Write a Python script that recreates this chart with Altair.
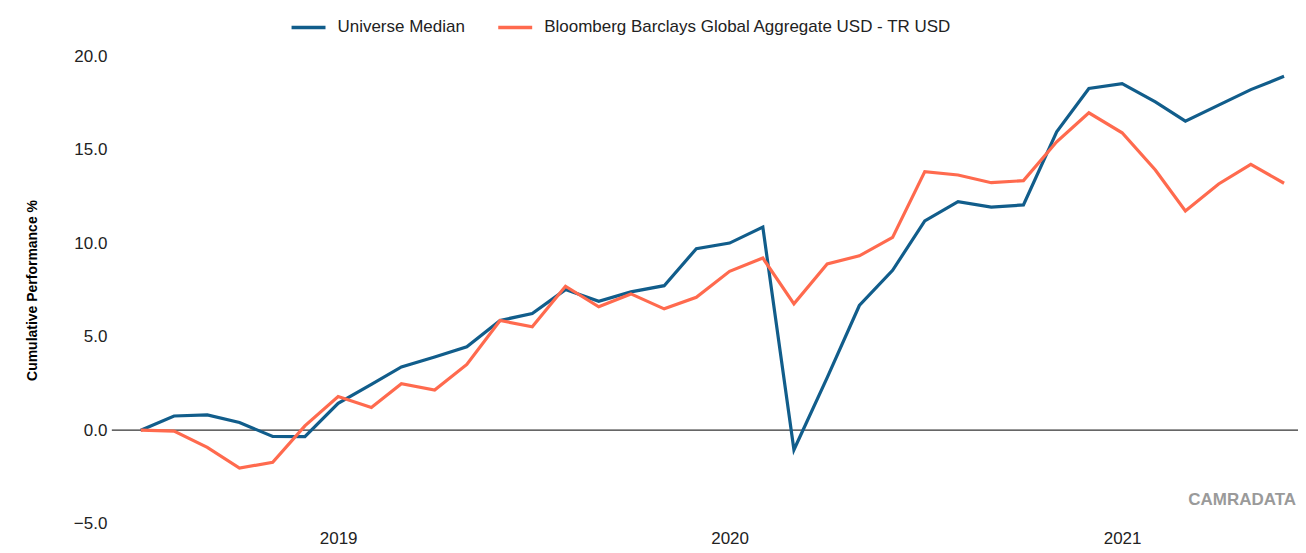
import altair as alt
import pandas as pd

months = [d.strftime("%Y-%m-%d") for d in pd.date_range("2018-07-01", periods=36, freq="MS")]

universe_median = [0.0, 0.76, 0.82, 0.41, -0.34, -0.35, 1.44, 2.45, 3.38, 3.91, 4.46, 5.87,
                   6.24, 7.52, 6.90, 7.40, 7.73, 9.71, 10.01, 10.86, -1.05, 2.81, 6.67, 8.55,
                   11.20, 12.23, 11.93, 12.05, 15.96, 18.28, 18.54, 17.56, 16.53, 17.39, 18.22, 18.93]

bloomberg = [0.0, -0.05, -0.92, -2.03, -1.72, 0.23, 1.80, 1.21, 2.49, 2.15, 3.52, 5.87,
             5.53, 7.70, 6.60, 7.29, 6.49, 7.11, 8.50, 9.21, 6.76, 8.89, 9.33, 10.31,
             13.83, 13.65, 13.24, 13.35, 15.43, 16.98, 15.91, 13.92, 11.73, 13.17, 14.22, 13.21]

series_names = ["Universe Median", "Bloomberg Barclays Global Aggregate USD - TR USD"]
series_colors = ["#115d8b", "#ff6a4e"]
y_ticks = [-5, 0, 5, 10, 15, 20]
year_ticks = ["2019-01-01", "2020-01-01", "2021-01-01"]

rows = []
for m, a, b in zip(months, universe_median, bloomberg):
    rows.append({"date": m, "series": series_names[0], "value": a})
    rows.append({"date": m, "series": series_names[1], "value": b})
df = pd.DataFrame(rows)

FONT = "Liberation Sans"

x_enc = alt.X(
    "date:T",
    scale=alt.Scale(domain=["2018-06-04", "2021-06-14"]),
    axis=alt.Axis(
        values=year_ticks, format="%Y", title=None, grid=False, domain=False,
        ticks=False, labelFont=FONT, labelFontSize=17, labelColor="#222222",
        labelPadding=7,
    ),
)
y_scale = alt.Scale(domain=[-5, 20], nice=False)
y_axis = alt.Axis(
    values=y_ticks, format=".1f", title="Cumulative Performance %",
    grid=False, domain=False, ticks=False, labelFont=FONT, labelFontSize=17,
    labelColor="#222222", labelPadding=5, titleFont=FONT, titleFontSize=14,
    titleFontWeight="bold", titleColor="#000000", titleX=-79, titleY=234,
    titleAlign="center", titleBaseline="middle", titleAngle=-90,
)

lines = alt.Chart(df).mark_line(strokeWidth=3.2, strokeJoin="miter").encode(
    x=x_enc,
    y=alt.Y("value:Q", scale=y_scale, axis=y_axis),
    color=alt.Color(
        "series:N",
        scale=alt.Scale(domain=series_names, range=series_colors),
        legend=alt.Legend(
            title=None, orient="none", legendX=178, legendY=-48, direction="horizontal",
            symbolType="stroke", symbolStrokeWidth=3.5, symbolSize=1156,
            labelFont=FONT, labelFontSize=17, labelColor="#222222", labelOffset=10,
            columnPadding=26, labelLimit=800,
        ),
    ),
    order=alt.Order("date:T"),
)

zero = alt.Chart(pd.DataFrame({"y": [0]})).mark_rule(color="#333333", strokeWidth=1.2).encode(
    y=alt.Y("y:Q", scale=y_scale, axis=y_axis)
)

mark_df = pd.DataFrame({"t": ["CAMRADATA"]})
watermark = alt.Chart(mark_df).mark_text(
    font=FONT, fontSize=17, fontWeight="bold", color="#9a9a9a", align="right", baseline="middle"
).encode(text="t:N", x=alt.value(1186), y=alt.value(444))

chart = alt.layer(zero, lines, watermark).properties(
    width=1188, height=468,
    autosize=alt.AutoSizeParams(type="none"),
    padding={"left": 104, "top": 48, "right": 0, "bottom": 28},
).configure(background="white").configure_view(stroke=None).configure_axis(grid=False)

chart.save("out.html", embed_options={"renderer": "svg", "actions": False})
